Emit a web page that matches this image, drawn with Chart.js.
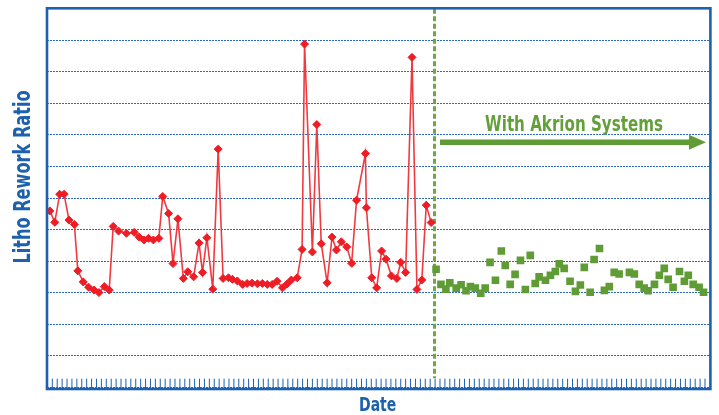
<!DOCTYPE html>
<html>
<head>
<meta charset="utf-8">
<script src="https://cdn.jsdelivr.net/npm/chart.js@4/dist/chart.umd.min.js"></script>
<style>
  body { margin: 0; background: #fff; }
</style>
</head>
<body>
<canvas id="rework_chart" width="719" height="415"></canvas>
<script>
// day numbers along the Date axis and rework ratio
var beforeDays = [0.5, 1.5, 2.5, 3.4, 4.4, 5.5, 6.2, 7.3, 8.4, 9.5, 10.5, 11.6, 12.6, 13.4, 14.5, 16.1, 17.7, 18.7, 19.7, 20.6,
    21.6, 22.7, 23.5, 24.7, 25.6, 26.6, 27.7, 28.6, 29.8, 30.9, 31.6, 32.5, 33.7, 34.8, 35.8, 36.9, 37.7, 38.7, 39.8, 40.7,
    41.7, 42.8, 43.8, 44.8, 45.8, 46.8, 47.9, 48.8, 49.7, 50.9, 51.9, 52.4, 54.0, 54.9, 55.8, 57.0, 58.0, 58.9, 59.9, 61.0,
    62.0, 63.0, 64.8, 65.0, 66.1, 67.1, 68.1, 69.0, 70.1, 71.2, 72.0, 73.0, 74.3, 75.3, 76.3, 77.2, 78.2];
var beforeRatio = [5.59, 5.23, 6.12, 6.12, 5.30, 5.16, 3.69, 3.34, 3.17, 3.08, 3.00, 3.19, 3.08, 5.10, 4.95, 4.88, 4.91, 4.76, 4.67, 4.72,
    4.67, 4.72, 6.05, 5.51, 3.92, 5.34, 3.45, 3.66, 3.50, 4.57, 3.64, 4.74, 3.11, 7.55, 3.45, 3.47, 3.42, 3.37, 3.26, 3.29,
    3.30, 3.28, 3.29, 3.26, 3.26, 3.36, 3.15, 3.27, 3.40, 3.47, 4.37, 10.88, 4.29, 8.33, 4.55, 3.31, 4.76, 4.35, 4.61, 4.45,
    3.93, 5.93, 7.41, 5.69, 3.47, 3.15, 4.32, 4.06, 3.53, 3.45, 3.96, 3.64, 10.46, 3.10, 3.40, 5.77, 5.22];

var akrionDays = [79.2, 80.2, 81.2, 82.0, 83.3, 84.3, 85.3, 86.2, 87.2, 88.3, 89.2, 90.2, 91.3, 92.5, 93.3, 94.3, 95.3, 96.4,
    97.4, 98.4, 99.4, 100.2, 101.5, 102.5, 103.5, 104.3, 105.3, 106.5, 107.6, 108.6, 109.4, 110.6, 111.4, 112.5, 113.5,
    114.5, 115.5, 116.5, 118.6, 119.6, 120.6, 121.6, 122.4, 123.7, 124.7, 125.7, 126.5, 127.5, 128.8, 129.8, 130.6,
    131.6, 132.8, 133.7];
var akrionRatio = [3.74, 3.26, 3.11, 3.31, 3.14, 3.25, 3.06, 3.19, 3.14, 2.98, 3.14, 3.96, 3.39, 4.32, 3.86, 3.26, 3.58, 4.02,
    3.10, 4.18, 3.29, 3.50, 3.39, 3.55, 3.67, 3.91, 3.77, 3.36, 3.04, 3.24, 3.80, 3.01, 4.05, 4.40, 3.07,
    3.19, 3.64, 3.59, 3.64, 3.59, 3.26, 3.14, 3.06, 3.26, 3.55, 3.77, 3.42, 3.17, 3.67, 3.36, 3.55,
    3.26, 3.17, 3.01];

var switchDay = 78.8;
var arrowFrom = 80.0, arrowTo = 134.2, arrowLevel = 7.77;
var noteDay = 107.3, noteLevel = 8.14;

var blue = "#1d61ad";
var green = "#5f9c35";
var narrow = "'Liberation Sans Narrow', 'Arial Narrow', 'DejaVu Sans Condensed', sans-serif";

function pairs(xs, ys) {
    var out = [];
    for (var i = 0; i < xs.length; i++) out.push({x: xs[i], y: ys[i]});
    return out;
}

// bold condensed label; squeeze a bit since no narrow face is installed
function label(ctx, text, x, y, size, color, angle, squeeze) {
    ctx.save();
    ctx.translate(x, y);
    if (angle) ctx.rotate(angle);
    ctx.scale(squeeze, 1);
    ctx.fillStyle = color;
    ctx.font = "bold " + size + "px " + narrow;
    ctx.textAlign = "center";
    ctx.textBaseline = "alphabetic";
    ctx.fillText(text, 0, 0);
    ctx.restore();
}

var decor = {
    id: 'decor',
    beforeDatasetsDraw: function(chart) {
        var ctx = chart.ctx, a = chart.chartArea;
        var xs = chart.scales.x, ys = chart.scales.y;
        ctx.save();
        // small date ticks inside the frame
        ctx.strokeStyle = blue;
        ctx.lineWidth = 1;
        for (var k = 1; k < 135; k++) {
            var px = xs.getPixelForValue(k);
            ctx.beginPath();
            ctx.moveTo(px, a.bottom - 8.5);
            ctx.lineTo(px, a.bottom + 1);
            ctx.stroke();
        }
        // switch-over line
        var sx = Math.round(xs.getPixelForValue(switchDay)) + 0.5;
        ctx.strokeStyle = "#6ea842";
        ctx.lineWidth = 3;
        ctx.setLineDash([5, 2.5]);
        ctx.beginPath();
        ctx.moveTo(sx, a.top);
        ctx.lineTo(sx, a.bottom - 9);
        ctx.stroke();
        ctx.setLineDash([]);
        // arrow
        var ay = ys.getPixelForValue(arrowLevel);
        var ax0 = xs.getPixelForValue(arrowFrom), ax1 = xs.getPixelForValue(arrowTo);
        ctx.strokeStyle = green;
        ctx.fillStyle = green;
        ctx.lineWidth = 5.5;
        ctx.beginPath();
        ctx.moveTo(ax0, ay);
        ctx.lineTo(ax1 - 14, ay);
        ctx.stroke();
        ctx.beginPath();
        ctx.moveTo(ax1, ay);
        ctx.lineTo(ax1 - 17, ay - 7.5);
        ctx.lineTo(ax1 - 17, ay + 7.5);
        ctx.closePath();
        ctx.fill();
        ctx.restore();
        label(ctx, "With Akrion Systems", xs.getPixelForValue(noteDay), ys.getPixelForValue(noteLevel), 21, "#63a03a", 0, 0.8);
    },
    afterDraw: function(chart) {
        var ctx = chart.ctx, a = chart.chartArea;
        ctx.save();
        ctx.strokeStyle = blue;
        ctx.lineWidth = 2.6;
        ctx.strokeRect(a.left - 0.4, a.top - 0.5, a.right - a.left + 0.9, a.bottom - a.top + 2.3);
        ctx.restore();
        // axis titles: y sits a bit above the middle of the frame
        label(ctx, "Litho Rework Ratio", 30, 177, 23, blue, -Math.PI / 2, 0.78);
        label(ctx, "Date", (a.left + a.right) / 2 - 1, 411, 19, blue, 0, 0.82);
    }
};

var ctxRework = document.getElementById("rework_chart").getContext("2d");

var rework_chart = new Chart(ctxRework, {
    type: 'scatter',
    data: {
        datasets: [{
            label: 'Before',
            data: pairs(beforeDays, beforeRatio),
            showLine: true,
            borderColor: "#f03a40",
            borderWidth: 1.6,
            pointStyle: 'rectRot',
            pointRadius: 4,
            pointBorderWidth: 1,
            pointBackgroundColor: "#ee1d25",
            pointBorderColor: "#ee1d25"
        }, {
            label: 'With Akrion Systems',
            data: pairs(akrionDays, akrionRatio),
            showLine: false,
            pointStyle: 'rect',
            pointRadius: 5.4,
            pointBorderWidth: 0,
            pointBackgroundColor: green,
            pointBorderColor: green
        }]
    },
    options: {
        responsive: false,
        animation: false,
        events: [],
        layout: {
            autoPadding: false,
            padding: {left: 47.4, top: 8.8, right: 9.1, bottom: 27.8}
        },
        plugins: {
            legend: {display: false},
            tooltip: {enabled: false}
        },
        scales: {
            x: {
                type: 'linear',
                min: 0,
                max: 135,
                grid: {display: false, drawTicks: false},
                border: {display: false},
                ticks: {display: false}
            },
            y: {
                min: 0,
                max: 12,
                grid: {color: "#2b6bb5", lineWidth: 1, drawTicks: false},
                border: {display: false, dash: [2, 1]},
                ticks: {display: false, stepSize: 1}
            }
        }
    },
    plugins: [decor]
});
</script>
</body>
</html>
